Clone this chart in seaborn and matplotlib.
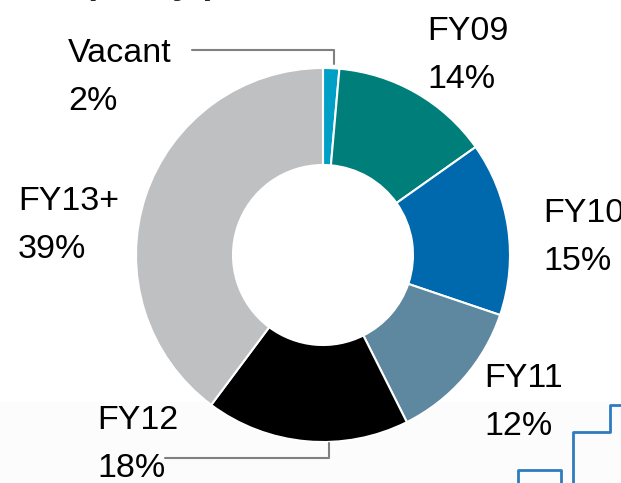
import numpy as np
import matplotlib
matplotlib.use("Agg")
import matplotlib.pyplot as plt
import seaborn as sns

sns.set_theme(style="white")
plt.rcParams["font.family"] = ["Liberation Sans", "DejaVu Sans"]

# lease expiry share by fiscal year
segments = ["Vacant", "FY09", "FY10", "FY11", "FY12", "FY13+"]
shares = [1.4, 13.8, 15.0, 12.4, 17.6, 39.8]
pct_labels = ["2%", "14%", "15%", "12%", "18%", "39%"]
seg_colors = ["#00A0C6", "#007E7A", "#0068AC", "#5E87A0", "#000000", "#BFC0C2"]

# label anchor (left x, baseline of first line) in pixel coords, y down
label_x = [68, 427, 543, 484, 97, 18]
label_y = [62, 40, 222, 387, 429, 210]

# decorative step outline in the bottom-right corner (pixel coords)
step_a_x = [518, 518, 561, 561]
step_a_y = [483, 470, 470, 483]
step_b_x = [573, 573, 610, 610, 621]
step_b_y = [483, 432, 432, 405, 405]

W, H = 621, 483


def py(y):
    # pixel row -> data y (axes run y-up)
    return H - y


fig = plt.figure(figsize=(W / 100, H / 100), dpi=100)
ax = fig.add_axes([0, 0, 1, 1])

ax.axhspan(0, py(402), color="#FCFCFC", zorder=0)

ax.pie(shares, colors=seg_colors, startangle=90, counterclock=False,
       center=(323, py(255)), radius=187,
       wedgeprops=dict(width=97, edgecolor="white", linewidth=1.5))

for name, pct, x, y in zip(segments, pct_labels, label_x, label_y):
    ax.text(x, py(y), name, fontsize=24.5, color="black", va="baseline", ha="left")
    ax.text(x, py(y + 48), pct, fontsize=24.5, color="black", va="baseline", ha="left")

# leader lines for the two labels that sit away from their slice
ax.plot([192, 334, 334], [py(50), py(50), py(64)], color="#808080", lw=1.5)
ax.plot([165, 329, 329], [py(458), py(458), py(443)], color="#808080", lw=1.5)

ax.plot(step_a_x, [py(v) for v in step_a_y], color="#2E7CC0", lw=2)
ax.plot(step_b_x, [py(v) for v in step_b_y], color="#2E7CC0", lw=2)

# title cut off by the crop, only descenders remain
ax.text(-2, py(-7), "Occupancy profile", fontsize=26, fontweight="bold",
        va="baseline", ha="left")

ax.set_xlim(0, W)
ax.set_ylim(0, H)
ax.set_aspect("equal")
ax.axis("off")

fig.savefig("out.png", dpi=100)
